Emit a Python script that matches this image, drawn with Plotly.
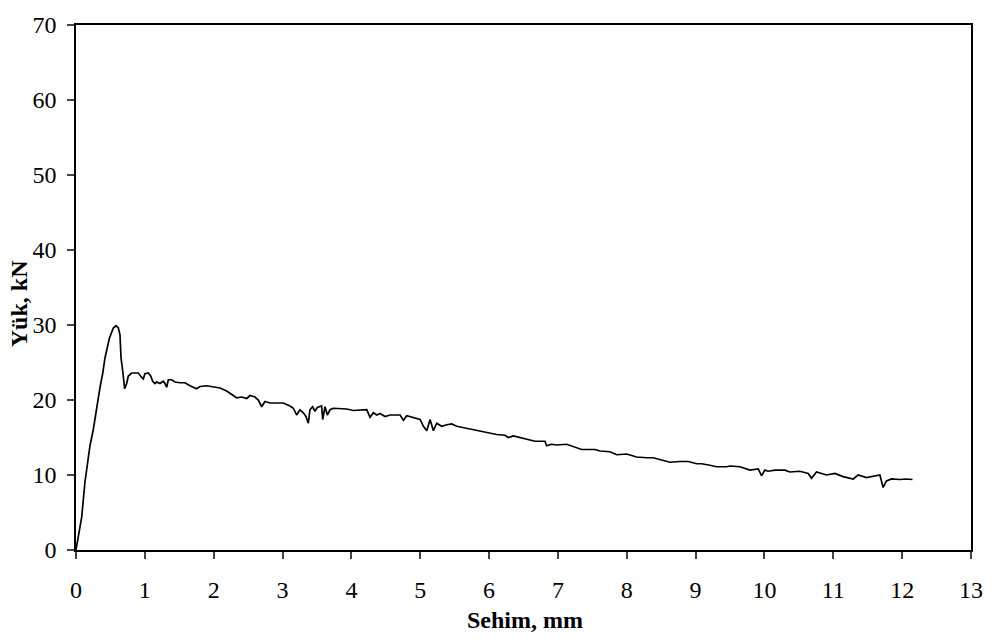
import plotly.graph_objects as go

deflection_mm = [
    0.0, 0.082, 0.131, 0.203, 0.252, 0.300, 0.349, 0.387, 0.421, 0.484, 0.542, 0.581, 0.615,
    0.639, 0.654, 0.673, 0.688, 0.707, 0.736, 0.760, 0.809, 0.905, 0.954, 0.978, 1.0, 1.05,
    1.085, 1.114, 1.147, 1.171, 1.22, 1.268, 1.292, 1.317, 1.341, 1.39, 1.438, 1.51, 1.583,
    1.656, 1.752, 1.801, 1.898, 1.995, 2.092, 2.188, 2.285, 2.334, 2.406, 2.479, 2.528, 2.6,
    2.648, 2.697, 2.745, 2.818, 2.914, 3.011, 3.108, 3.157, 3.205, 3.253, 3.302, 3.34, 3.374,
    3.398, 3.437, 3.471, 3.505, 3.568, 3.583, 3.617, 3.651, 3.69, 3.738, 3.835, 3.932, 4.029,
    4.126, 4.223, 4.271, 4.32, 4.368, 4.417, 4.489, 4.562, 4.707, 4.756, 4.804, 4.901, 4.998,
    5.046, 5.095, 5.143, 5.191, 5.24, 5.312, 5.385, 5.458, 5.53, 5.627, 5.724, 5.821, 5.918,
    6.015, 6.11, 6.231, 6.28, 6.352, 6.497, 6.594, 6.667, 6.812, 6.836, 6.909, 6.981, 7.127,
    7.248, 7.345, 7.538, 7.611, 7.756, 7.853, 7.998, 8.143, 8.288, 8.385, 8.506, 8.627, 8.773,
    8.894, 9.015, 9.088, 9.208, 9.305, 9.45, 9.499, 9.644, 9.789, 9.91, 9.958, 10.006, 10.055,
    10.152, 10.297, 10.369, 10.514, 10.635, 10.684, 10.756, 10.901, 11.022, 11.143, 11.288,
    11.361, 11.482, 11.627, 11.676, 11.724, 11.772, 11.845, 11.966, 12.063, 12.15,
]
load_kN = [
    0.0, 4.35, 9.13, 13.9, 16.1, 19.1, 21.7, 23.5, 25.6, 28.2, 29.6, 29.9, 29.6,
    28.7, 25.6, 24.3, 22.6, 21.5, 22.2, 23.2, 23.6, 23.6, 23.0, 22.8, 23.5, 23.6,
    23.2, 22.5, 22.2, 22.4, 22.2, 22.5, 22.2, 21.7, 22.7, 22.7, 22.4, 22.3, 22.3,
    21.9, 21.5, 21.8, 21.9, 21.8, 21.6, 21.2, 20.6, 20.3, 20.4, 20.2, 20.6, 20.4,
    20.0, 19.1, 19.8, 19.6, 19.6, 19.6, 19.2, 18.9, 18.0, 18.7, 18.3, 17.8, 16.9,
    18.7, 19.1, 18.5, 19.0, 19.2, 17.4, 19.1, 18.0, 18.7, 18.9, 18.9, 18.8, 18.6,
    18.7, 18.7, 17.7, 18.3, 18.0, 18.2, 17.8, 18.0, 18.0, 17.3, 17.9, 17.6, 17.4,
    16.5, 15.9, 17.4, 15.9, 16.9, 16.5, 16.7, 16.8, 16.5, 16.3, 16.1, 15.9, 15.7,
    15.6, 15.4, 15.3, 15.0, 15.2, 14.9, 14.7, 14.5, 14.5, 13.9, 14.1, 14.0, 14.1,
    13.7, 13.4, 13.4, 13.2, 13.1, 12.7, 12.8, 12.4, 12.3, 12.3, 12.0, 11.7, 11.8,
    11.8, 11.5, 11.5, 11.3, 11.1, 11.1, 11.2, 11.1, 10.65, 10.8, 9.9, 10.65, 10.5,
    10.65, 10.65, 10.4, 10.5, 10.2, 9.56, 10.4, 10.0, 10.2, 9.78, 9.47,
    10.0, 9.65, 9.91, 10.0, 8.34, 9.21, 9.47, 9.4, 9.47, 9.4,
]

x_ticks = list(range(0, 14))
y_ticks = list(range(0, 71, 10))
x_title = "Sehim, mm"
y_title = "Yük, kN"

fig = go.Figure()
fig.add_trace(go.Scatter(
    x=deflection_mm, y=load_kN, mode="lines",
    line=dict(color="black", width=1.7),
    showlegend=False,
))

ff = "Liberation Serif"
fig.update_layout(
    width=996, height=640,
    margin=dict(l=76, r=25, t=14, b=90),
    paper_bgcolor="white", plot_bgcolor="white",
    font=dict(family=ff, color="black", size=24),
    xaxis=dict(
        range=[0, 13], tickvals=x_ticks, ticks="outside", ticklen=7, tickwidth=1.6,
        showline=True, linecolor="black", linewidth=1.6, mirror=True,
        showgrid=False, zeroline=False, ticklabelstandoff=10,
        tickfont=dict(size=24, family=ff),
    ),
    yaxis=dict(
        range=[0, 70], tickvals=y_ticks, ticks="outside", ticklen=7, tickwidth=1.6,
        showline=True, linecolor="black", linewidth=1.6, mirror=True,
        showgrid=False, zeroline=False, ticklabelstandoff=6,
        tickfont=dict(size=24, family=ff),
    ),
    annotations=[
        dict(text="<b>" + x_title + "</b>", xref="paper", yref="paper",
             x=0.502, y=-0.1325, xanchor="center", yanchor="middle",
             showarrow=False, font=dict(size=24, family=ff)),
        dict(text="<b>" + y_title + "</b>", xref="paper", yref="paper",
             x=-0.0637, y=0.47, xanchor="center", yanchor="middle", textangle=-90,
             showarrow=False, font=dict(size=24, family=ff)),
    ],
)

fig.write_html("out.html")
